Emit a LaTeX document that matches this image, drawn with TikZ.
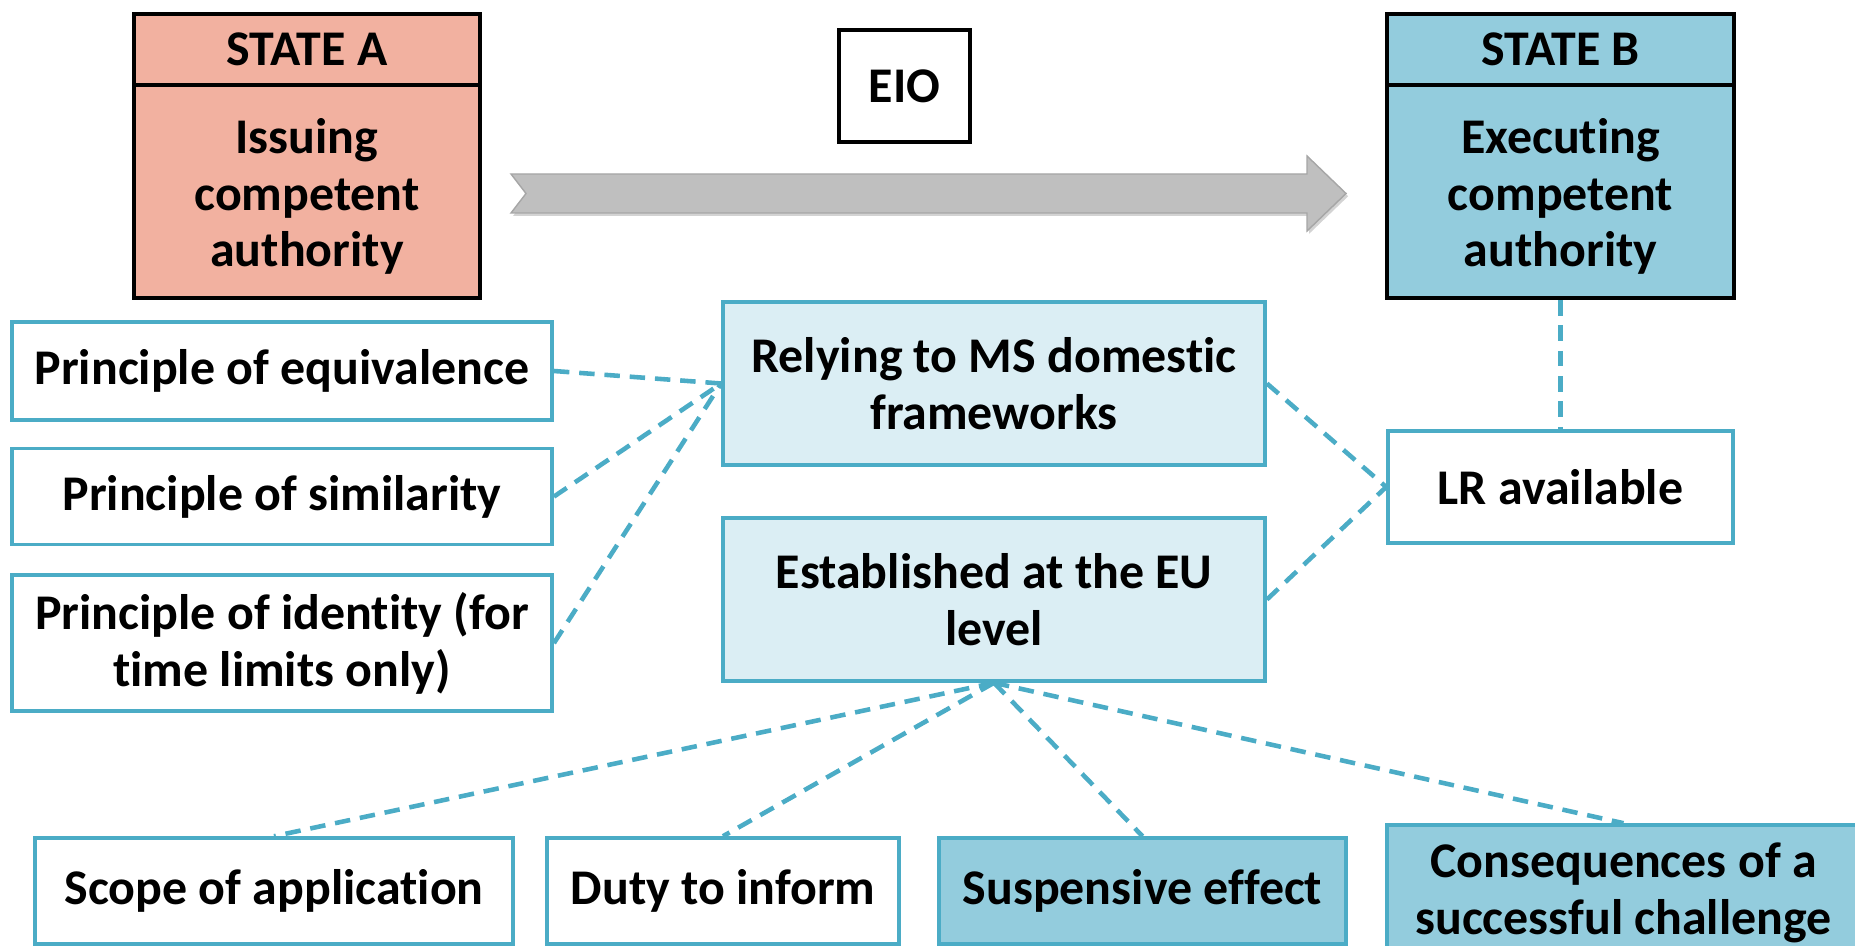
\documentclass[tikz,border=0pt]{standalone}
\usepackage{fontspec}
\setmainfont{Carlito}[Ligatures={NoCommon}]
\usetikzlibrary{positioning,shadows}

\definecolor{salmonfill}{HTML}{F2B1A0}
\definecolor{skyfill}{HTML}{93CCDD}
\definecolor{palefill}{HTML}{DBEEF4}
\definecolor{edgeblue}{HTML}{4BACC6}
\definecolor{arrowgray}{HTML}{BFBFBF}

\newcommand{\lowered}[1]{\raisebox{-2pt}[\height][\depth]{\begin{tabular}{@{}c@{}}#1\end{tabular}}}

\begin{document}
\begin{tikzpicture}[x=0.01cm, y=-0.01cm,
    txt/.style = {align=center, inner sep=2pt, font=\bfseries\fontsize{14.2}{16.2}\selectfont},
    state/.style = {txt, draw=black, line width=1.15pt, minimum width=3.46cm},
    item/.style = {txt, draw=edgeblue, line width=1pt},
    link/.style = {draw=edgeblue, line width=1.3pt, dash pattern=on 4.4pt off 2.8pt}]
    \useasboundingbox (0,0) rectangle (1855,946);
    \clip (0,0) rectangle (1855,946);

    % the two states
    \node[state, fill=salmonfill, minimum height=0.71cm] (stA) at (307,49.5) {STATE A};
    \node[state, fill=salmonfill, minimum height=2.13cm, below=-1.15pt of stA] (issA) {\lowered{Issuing\\competent\\authority}};
    \node[state, fill=skyfill, minimum height=0.71cm] (stB) at (1560.5,49.5) {STATE B};
    \node[state, fill=skyfill, minimum height=2.13cm, below=-1.15pt of stB] (exeB) {\lowered{Executing\\competent\\authority}};

    % the order travelling from A to B
    \node[state, fill=white, line width=1pt, minimum width=1.31cm, minimum height=1.12cm] (eio) at (904.5,86) {EIO};
    \fill[arrowgray, draw=gray!70, line width=0.4pt, drop shadow={shadow xshift=0.6pt, shadow yshift=-0.8pt, opacity=0.35}]
        (511,174) -- (1307,174) -- (1307,156) -- (1346,193.5) -- (1307,231) -- (1307,213) -- (511,213) -- (526,193.5) -- cycle;

    % principles on the left
    \node[item, minimum width=5.4cm, minimum height=0.98cm] (equiv) at (282,371) {Principle of equivalence};
    \node[item, minimum width=5.4cm, minimum height=0.96cm, below=0.25cm of equiv] (simil) {Principle of similarity};
    \node[item, minimum width=5.4cm, minimum height=1.36cm, below=0.27cm of simil] (ident) {Principle of identity (for\\time limits only)};

    % middle column
    \node[item, fill=palefill, minimum width=5.42cm, minimum height=1.63cm] (rely) at (994,383.5) {Relying to MS domestic\\frameworks};
    \node[item, fill=palefill, minimum width=5.42cm, minimum height=1.63cm] (estab) at (994,599.5) {Established at the EU\\level};
    \node[item, minimum width=3.45cm, minimum height=1.12cm] (lr) at (1560.5,487) {LR available};

    % bottom row
    \node[item, minimum width=4.78cm, minimum height=1.06cm] (scope) at (274,891) {Scope of application};
    \node[item, minimum width=3.52cm, minimum height=1.06cm] (duty) at (723,891) {Duty to inform};
    \node[item, fill=skyfill, minimum width=4.07cm, minimum height=1.06cm] (susp) at (1142.5,891) {Suspensive effect};
    \node[item, fill=skyfill, minimum width=4.73cm, minimum height=1.35cm] (cons) at (1623.5,892.5) {Consequences of a\\successful challenge};

    % dashed links
    \draw[link] (equiv.east) -- (rely.west);
    \draw[link] (simil.east) -- (rely.west);
    \draw[link] (ident.east) -- (rely.west);
    \draw[link] (rely.east) -- (lr.west);
    \draw[link] (estab.east) -- (lr.west);
    \draw[link] (exeB.south) -- (lr.north);
    \draw[link] (estab.south) -- (scope.north);
    \draw[link] (estab.south) -- (duty.north);
    \draw[link] (estab.south) -- (susp.north);
    \draw[link] (estab.south) -- (cons.north);
\end{tikzpicture}
\end{document}
